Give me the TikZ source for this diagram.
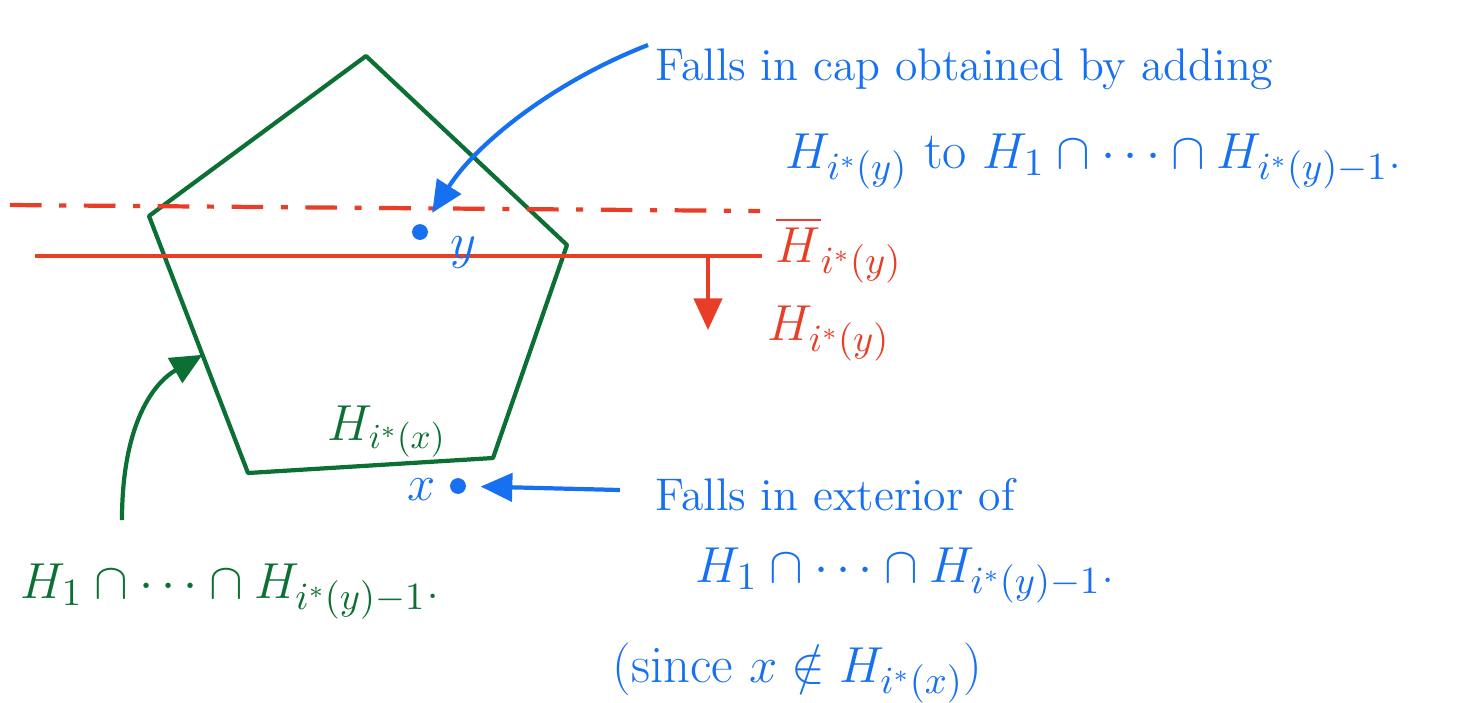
\documentclass[tikz,border=0pt]{standalone}
\usepackage{amsmath,amssymb}
\usepackage{xcolor}
\usepackage{tikz}
\usetikzlibrary{arrows.meta,positioning,calc}
\definecolor{penblue}{RGB}{22,112,240}
\definecolor{penred}{RGB}{232,62,40}
\definecolor{pengreen}{RGB}{12,112,52}

\begin{document}
\begin{tikzpicture}[x=0.01cm, y=-0.01cm,
    note/.style={anchor=base west, inner sep=0pt, font=\fontsize{13}{16}\selectfont},
    formula/.style={anchor=base west, inner sep=0pt, font=\fontsize{15}{18}\selectfont},
    edge/.style={pengreen, line width=1.2pt, line join=round},
    arr/.style={-{Triangle[length=9pt, width=8pt]}, line width=1.2pt},
    dot/.style={circle, fill=penblue, inner sep=0pt, minimum size=4.5pt},
]
\useasboundingbox (0,0) rectangle (1460,702);

% polygon H_1 cap ... cap H_{i*(y)-1}
\coordinate (top) at (366,56);
\coordinate (ul) at (149,216);
\coordinate (ur) at (567,245);
\coordinate (lr) at (493,458);
\coordinate (ll) at (248,473);
\draw[edge] (top) -- (ur) -- (lr) -- (ll) -- (ul) -- cycle;
\node[formula, text=pengreen, font=\fontsize{14}{17}\selectfont] (hx) at (327,440) {$H_{i^*(x)}$};

% the half-space H_{i*(y)} and its boundary
\coordinate (dashL) at (10,205);
\coordinate (dashR) at (760,211);
\draw[penred, line width=1.2pt, dash pattern=on 9pt off 5pt on 2pt off 5pt] (dashL) -- (dashR);
\coordinate (lineL) at (35,256);
\coordinate (lineR) at (762,256);
\draw[penred, line width=1.3pt] (lineL) -- (lineR);
\coordinate (hsTail) at (708,256);
\coordinate (hsTip) at (708,330);
\draw[penred, arr] (hsTail) -- (hsTip);
\node[formula, text=penred] (hbar) at (775,262) {$\overline{H}_{i^*(y)}$};
\node[formula, text=penred] (hlab) at (767,340) {$H_{i^*(y)}$};

% the points
\node[dot] (y) at (420,232) {};
\node[formula, text=penblue] (ylab) at (450,258) {$y$};
\node[dot] (x) at (458,486) {};
\node[formula, text=penblue] (xlab) at (407,500) {$x$};

% notes
\node[note, text=penblue] (cap1) at (655,80) {Falls in cap obtained by adding};
\node[formula, text=penblue] (cap2) at (785,168) {$H_{i^*(y)}$ to $H_1\cap\cdots\cap H_{i^*(y)-1}$.};
\coordinate (capTail) at (648,45);
\draw[penblue, arr, shorten >=4pt] (capTail) .. controls (553,82) and (476,144) .. (y);

\node[note, text=penblue] (ext1) at (655,510) {Falls in exterior of};
\node[formula, text=penblue] (ext2) at (695,582) {$H_1\cap\cdots\cap H_{i^*(y)-1}$.};
\node[formula, text=penblue] (ext3) at (612,682) {(since $x\notin H_{i^*(x)}$)};
\coordinate (extTail) at (620,490);
\draw[penblue, arr, shorten >=4pt] (extTail) -- (x);

\node[formula, text=pengreen] (poly) at (20,598) {$H_1\cap\cdots\cap H_{i^*(y)-1}$.};
\coordinate (gTail) at (122,520);
\coordinate (hit) at ($(ul)!0.54!(ll)$);
\draw[pengreen, arr] (gTail) .. controls (122,430) and (150,385) .. (hit);
\end{tikzpicture}
\end{document}
